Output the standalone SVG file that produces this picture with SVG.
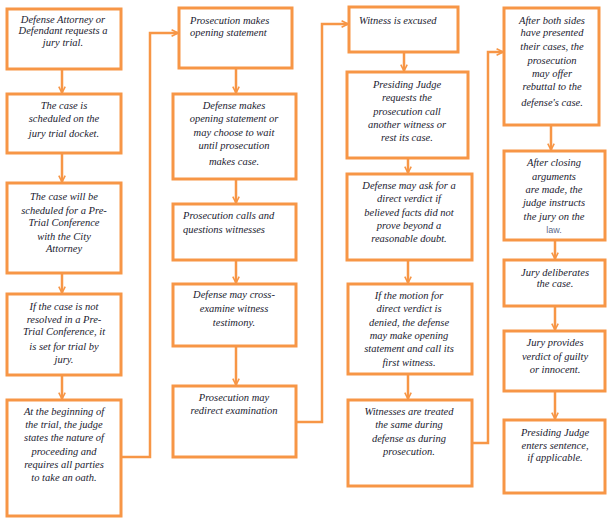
<svg xmlns="http://www.w3.org/2000/svg" width="616" height="525" viewBox="0 0 616 525">
<style>
.box{fill:#fff;stroke:#F79646;stroke-width:3}
.con{fill:none;stroke:#F79646;stroke-width:2.5}
text{font-family:"Liberation Serif","DejaVu Serif",serif;font-style:italic;font-size:10.5px;fill:#1b1b30}
.c{text-anchor:middle}
.law{font-family:"Liberation Sans",Arial,sans-serif;font-style:normal;font-size:9px;fill:#5a6a8a}
</style>
<defs>
<marker id="ah" viewBox="0 0 10 10" refX="9" refY="5" markerWidth="8" markerHeight="8" markerUnits="userSpaceOnUse" orient="auto">
<path d="M1,1 L9,5 L1,9" fill="none" stroke="#F79646" stroke-width="2"/>
</marker>
</defs>
<rect width="616" height="525" fill="#fff"/>
<g id="connectors">
<path class="con" d="M62,69 V93" marker-end="url(#ah)"/>
<path class="con" d="M62,153 V182" marker-end="url(#ah)"/>
<path class="con" d="M62,273 V293" marker-end="url(#ah)"/>
<path class="con" d="M62,375 V399" marker-end="url(#ah)"/>
<path class="con" d="M121,457 H150 V33 H178" marker-end="url(#ah)"/>
<path class="con" d="M236,68 V93" marker-end="url(#ah)"/>
<path class="con" d="M236,179 V203" marker-end="url(#ah)"/>
<path class="con" d="M236,260 V283" marker-end="url(#ah)"/>
<path class="con" d="M236,346 V385" marker-end="url(#ah)"/>
<path class="con" d="M296,422 H322 V24 H348" marker-end="url(#ah)"/>
<path class="con" d="M404,52 V71" marker-end="url(#ah)"/>
<path class="con" d="M408,158 V173" marker-end="url(#ah)"/>
<path class="con" d="M408,260 V283" marker-end="url(#ah)"/>
<path class="con" d="M408,374 V399" marker-end="url(#ah)"/>
<path class="con" d="M472,443 H488 V52 H503" marker-end="url(#ah)"/>
<path class="con" d="M551,125 V150" marker-end="url(#ah)"/>
<path class="con" d="M555,240 V259" marker-end="url(#ah)"/>
<path class="con" d="M555,306 V330" marker-end="url(#ah)"/>
<path class="con" d="M555,391 V419" marker-end="url(#ah)"/>
</g>
<g id="n1">
<rect class="box" x="7" y="9" width="114" height="60"/>
<text class="c" x="63" y="23">Defense Attorney or</text>
<text class="c" x="63" y="34">Defendant requests a</text>
<text class="c" x="63" y="46">jury trial.</text>
</g>
<g id="n2">
<rect class="box" x="7" y="94" width="114" height="59"/>
<text class="c" x="64" y="109">The case is</text>
<text class="c" x="64" y="122">scheduled on the</text>
<text class="c" x="64" y="137">jury trial docket.</text>
</g>
<g id="n3">
<rect class="box" x="7" y="183" width="114" height="90"/>
<text class="c" x="64" y="200">The case will be</text>
<text class="c" x="64" y="214">scheduled for a Pre-</text>
<text class="c" x="64" y="226">Trial Conference</text>
<text class="c" x="64" y="240">with the City</text>
<text class="c" x="64" y="252">Attorney</text>
</g>
<g id="n4">
<rect class="box" x="7" y="294" width="114" height="81"/>
<text class="c" x="64" y="310">If the case is not</text>
<text class="c" x="64" y="323">resolved in a Pre-</text>
<text class="c" x="64" y="335">Trial Conference, it</text>
<text class="c" x="64" y="350">is set for trial by</text>
<text class="c" x="64" y="363">jury.</text>
</g>
<g id="n5">
<rect class="box" x="7" y="400" width="114" height="116"/>
<text class="c" x="64" y="415">At the beginning of</text>
<text class="c" x="64" y="428">the trial, the judge</text>
<text class="c" x="64" y="441">states the nature of</text>
<text class="c" x="64" y="455">proceeding and</text>
<text class="c" x="64" y="468">requires all parties</text>
<text class="c" x="64" y="481">to take an oath.</text>
</g>
<g id="n6">
<rect class="box" x="179" y="8" width="113" height="60"/>
<text x="190" y="24">Prosecution makes</text>
<text x="190" y="36">opening statement</text>
</g>
<g id="n7">
<rect class="box" x="173" y="94" width="123" height="85"/>
<text class="c" x="234" y="109">Defense makes</text>
<text class="c" x="234" y="122">opening statement or</text>
<text class="c" x="234" y="136">may choose to wait</text>
<text class="c" x="234" y="149">until prosecution</text>
<text class="c" x="234" y="165">makes case.</text>
</g>
<g id="n8">
<rect class="box" x="173" y="204" width="123" height="56"/>
<text x="183" y="219">Prosecution calls and</text>
<text x="183" y="233">questions witnesses</text>
</g>
<g id="n9">
<rect class="box" x="173" y="284" width="123" height="62"/>
<text class="c" x="234" y="298">Defense may cross-</text>
<text class="c" x="234" y="312">examine witness</text>
<text class="c" x="234" y="326">testimony.</text>
</g>
<g id="n10">
<rect class="box" x="173" y="386" width="123" height="71"/>
<text class="c" x="234" y="401">Prosecution may</text>
<text class="c" x="234" y="414">redirect examination</text>
</g>
<g id="n11">
<rect class="box" x="349" y="7" width="109" height="45"/>
<text x="359" y="24">Witness is excused</text>
</g>
<g id="n12">
<rect class="box" x="347" y="72" width="121" height="86"/>
<text class="c" x="407" y="88">Presiding Judge</text>
<text class="c" x="407" y="101">requests the</text>
<text class="c" x="407" y="115">prosecution call</text>
<text class="c" x="407" y="128">another witness or</text>
<text class="c" x="407" y="141">rest its case.</text>
</g>
<g id="n13">
<rect class="box" x="347" y="174" width="125" height="86"/>
<text class="c" x="409" y="189">Defense may ask for a</text>
<text class="c" x="409" y="202">direct verdict if</text>
<text class="c" x="409" y="216">believed facts did not</text>
<text class="c" x="409" y="229">prove beyond a</text>
<text class="c" x="409" y="242">reasonable doubt.</text>
</g>
<g id="n14">
<rect class="box" x="348" y="284" width="124" height="90"/>
<text class="c" x="409" y="299">If the motion for</text>
<text class="c" x="409" y="312">direct verdict is</text>
<text class="c" x="409" y="326">denied, the defense</text>
<text class="c" x="409" y="339">may make opening</text>
<text class="c" x="409" y="352">statement and call its</text>
<text class="c" x="409" y="366">first witness.</text>
</g>
<g id="n15">
<rect class="box" x="348" y="400" width="124" height="86"/>
<text class="c" x="409" y="415">Witnesses are treated</text>
<text class="c" x="409" y="428">the same during</text>
<text class="c" x="409" y="442">defense as during</text>
<text class="c" x="409" y="455">prosecution.</text>
</g>
<g id="n16">
<rect class="box" x="504" y="8" width="95" height="117"/>
<text class="c" x="552" y="24">After both sides</text>
<text class="c" x="552" y="36">have presented</text>
<text class="c" x="552" y="50">their cases, the</text>
<text class="c" x="552" y="64">prosecution</text>
<text class="c" x="552" y="77">may offer</text>
<text class="c" x="552" y="90">rebuttal to the</text>
<text class="c" x="552" y="106">defense's case.</text>
</g>
<g id="n17">
<rect class="box" x="504" y="151" width="101" height="89"/>
<text class="c" x="554" y="166">After closing</text>
<text class="c" x="554" y="180">arguments</text>
<text class="c" x="554" y="193">are made, the</text>
<text class="c" x="554" y="206">judge instructs</text>
<text class="c" x="554" y="220">the jury on the</text>
<text class="c law" x="554" y="233">law.</text>
</g>
<g id="n18">
<rect class="box" x="504" y="260" width="101" height="46"/>
<text class="c" x="555" y="276">Jury deliberates</text>
<text class="c" x="555" y="287">the case.</text>
</g>
<g id="n19">
<rect class="box" x="504" y="331" width="101" height="60"/>
<text class="c" x="555" y="346">Jury provides</text>
<text class="c" x="555" y="360">verdict of guilty</text>
<text class="c" x="555" y="373">or innocent.</text>
</g>
<g id="n20">
<rect class="box" x="504" y="420" width="101" height="73"/>
<text class="c" x="555" y="436">Presiding Judge</text>
<text class="c" x="555" y="449">enters sentence,</text>
<text class="c" x="555" y="461">if applicable.</text>
</g>
</svg>
